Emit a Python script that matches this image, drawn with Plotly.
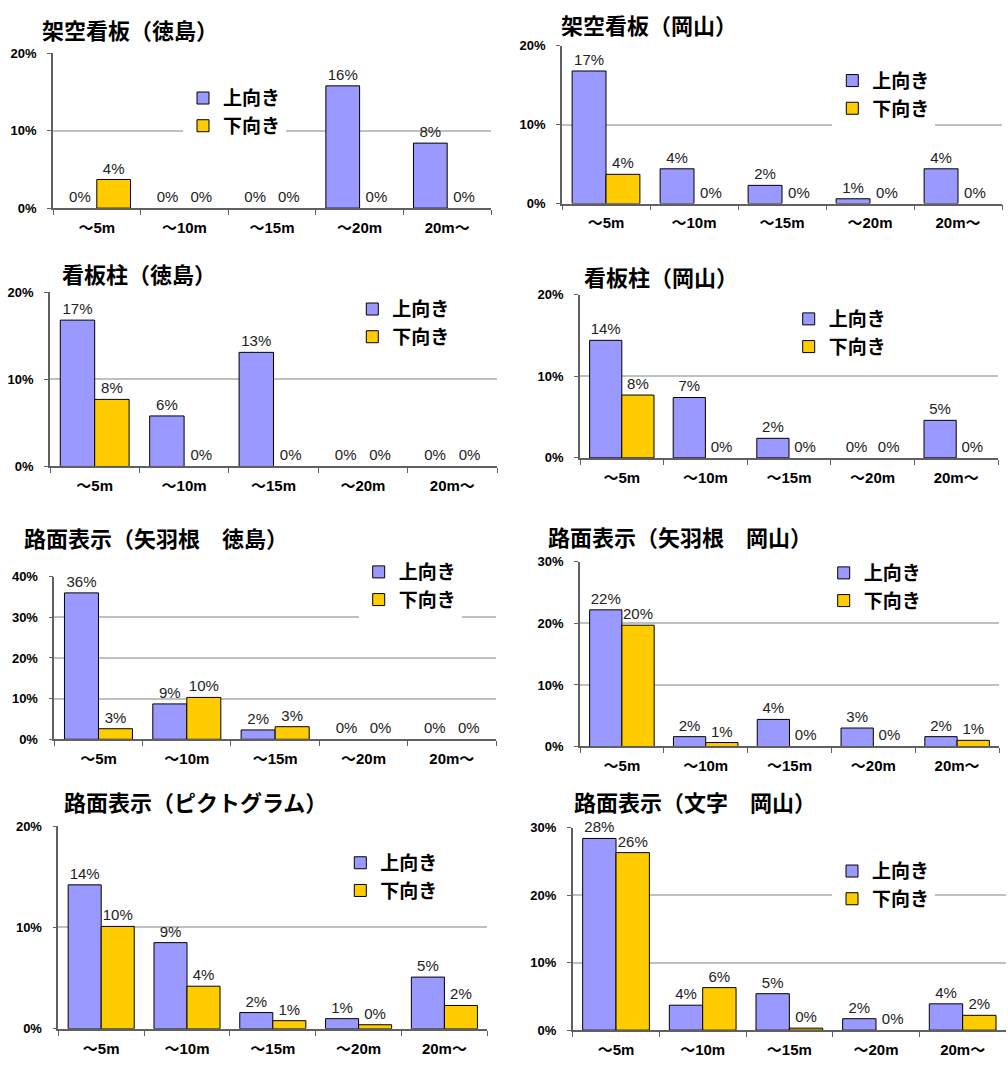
import plotly.graph_objects as go

W, H = 1008, 1071

categories = ["～5m", "～10m", "～15m", "～20m", "20m～"]
series_names = ["上向き", "下向き"]

titles = [
    "架空看板（徳島）",
    "架空看板（岡山）",
    "看板柱（徳島）",
    "看板柱（岡山）",
    "路面表示（矢羽根　徳島）",
    "路面表示（矢羽根　岡山）",
    "路面表示（ピクトグラム）",
    "路面表示（文字　岡山）",
]

# values in percent
up_1 = [0, 0, 0, 15.8, 8.4]
down_1 = [3.7, 0, 0, 0, 0]
up_2 = [16.8, 4.4, 2.3, 0.6, 4.4]
down_2 = [3.7, 0, 0, 0, 0]
up_3 = [16.8, 5.8, 13.1, 0, 0]
down_3 = [7.7, 0, 0, 0, 0]
up_4 = [14.4, 7.4, 2.4, 0, 4.6]
down_4 = [7.7, 0, 0, 0, 0]
up_5 = [36.0, 8.7, 2.3, 0, 0]
down_5 = [2.6, 10.3, 3.1, 0, 0]
up_6 = [22.2, 1.6, 4.4, 3.0, 1.6]
down_6 = [19.7, 0.64, 0, 0, 1.0]
up_7 = [14.2, 8.5, 1.6, 1.0, 5.1]
down_7 = [10.1, 4.2, 0.8, 0.4, 2.3]
up_8 = [28.4, 3.7, 5.4, 1.7, 3.9]
down_8 = [26.3, 6.3, 0.3, 0, 2.2]

up_series = [up_1, up_2, up_3, up_4, up_5, up_6, up_7, up_8]
down_series = [down_1, down_2, down_3, down_4, down_5, down_6, down_7, down_8]
y_max = [20, 20, 20, 20, 40, 30, 20, 30]

# layout geometry (pixels): plot left, right, top, bottom
panels = [
    (53, 491, 47, 204),
    (562, 1002, 39.3, 199.3),
    (50, 497, 289.3, 466),
    (580, 998, 291.7, 457.3),
    (54.3, 496, 577.7, 742.7),
    (580, 999, 562.7, 750),
    (58.3, 487.3, 830.7, 1036.3),
    (572.7, 1006, 832.3, 1037.7),
]
title_pos = [
    (40, 22), (559, 17), (60, 270), (582, 273),
    (22, 538), (546, 537), (62, 805), (572, 805),
]
legend_pos = [  # swatch left x, first row centre y
    (200, 97.7), (849.3, 80), (369.3, 311.7), (805.7, 321.7),
    (375.7, 578.3), (840.7, 579.3), (357.3, 873.3), (849, 881.7),
]

UP_COLOR = "#9999FF"
DOWN_COLOR = "#FFCC00"
NUM_FONT = "Liberation Sans, Arial, Noto Sans CJK JP"
JP_FONT = "Noto Sans CJK JP"


def px_x(x):
    return x / W


def px_y(y):
    return 1 - y / H


fig = go.Figure()
layout = dict(
    width=W, height=H, margin=dict(l=0, r=0, t=0, b=0),
    paper_bgcolor="white", plot_bgcolor="white",
    barmode="group", bargap=0.23, bargroupgap=0,
    annotations=[],
)

for i in range(8):
    n = i + 1
    xa = "x" if n == 1 else f"x{n}"
    ya = "y" if n == 1 else f"y{n}"
    lg = "legend" if n == 1 else f"legend{n}"
    for grp, name, vals, col in (("up", series_names[0], up_series[i], UP_COLOR),
                                 ("down", series_names[1], down_series[i], DOWN_COLOR)):
        line_w = [1 if v > 0 else 0 for v in vals]
        fig.add_trace(go.Bar(
            x=categories, y=vals, name=name, xaxis=xa, yaxis=ya, legend=lg,
            offsetgroup=grp,
            marker=dict(color=col, line=dict(color="#000000", width=line_w)),
            texttemplate="%{y:.0f}%", textposition="outside",
            textfont=dict(family=NUM_FONT, size=15, color="#222222"),
            constraintext="none", cliponaxis=False, showlegend=False,
        ))
    # legend entries (outlined swatches)
    for grp, name, col in (("up", series_names[0], UP_COLOR),
                           ("down", series_names[1], DOWN_COLOR)):
        fig.add_trace(go.Bar(
            x=[categories[0]], y=[None], name=name, xaxis=xa, yaxis=ya,
            legend=lg, offsetgroup=grp, showlegend=True, hoverinfo="skip",
            marker=dict(color=col, line=dict(color="#000000", width=1)),
        ))
    l, r, t, b = panels[i]
    xkey = "xaxis" if n == 1 else f"xaxis{n}"
    ykey = "yaxis" if n == 1 else f"yaxis{n}"
    layout[xkey] = dict(
        domain=[px_x(l), px_x(r)], anchor=ya, type="category",
        showline=True, linecolor="#606060", linewidth=1.5,
        ticks="outside", tickson="boundaries", ticklen=5, tickcolor="#606060",
        tickwidth=1, showgrid=False, ticklabelstandoff=5,
        tickfont=dict(family=NUM_FONT, size=15, color="#000000", weight=700),
    )
    layout[ykey] = dict(
        domain=[px_y(b), px_y(t)], anchor=xa, range=[0, y_max[i]],
        dtick=10, tick0=0, ticksuffix="%", showline=True,
        linecolor="#606060", linewidth=1.5, ticks="outside", ticklen=4,
        tickcolor="#606060", showgrid=True, gridcolor="#C0C0C0",
        gridwidth=1.5, zeroline=False, ticklabelstandoff=8,
        tickfont=dict(family=NUM_FONT, size=13, color="#000000", weight=700),
    )
    sx, sy = legend_pos[i]
    layout[lg] = dict(
        x=px_x(sx - 17), y=px_y(sy - 24.5), xanchor="left", yanchor="top",
        xref="paper", yref="paper", bgcolor="white", borderwidth=0,
        font=dict(family=JP_FONT, size=19, color="#000000", weight=700),
        orientation="v", traceorder="normal",
    )
    tx, ty = title_pos[i]
    layout["annotations"].append(dict(
        text=titles[i], x=px_x(tx), y=px_y(ty), xref="paper", yref="paper",
        xanchor="left", yanchor="middle", showarrow=False,
        font=dict(family=JP_FONT, size=22, color="#000000", weight=700),
    ))

fig.update_layout(**layout)
fig.write_html("out.html")
